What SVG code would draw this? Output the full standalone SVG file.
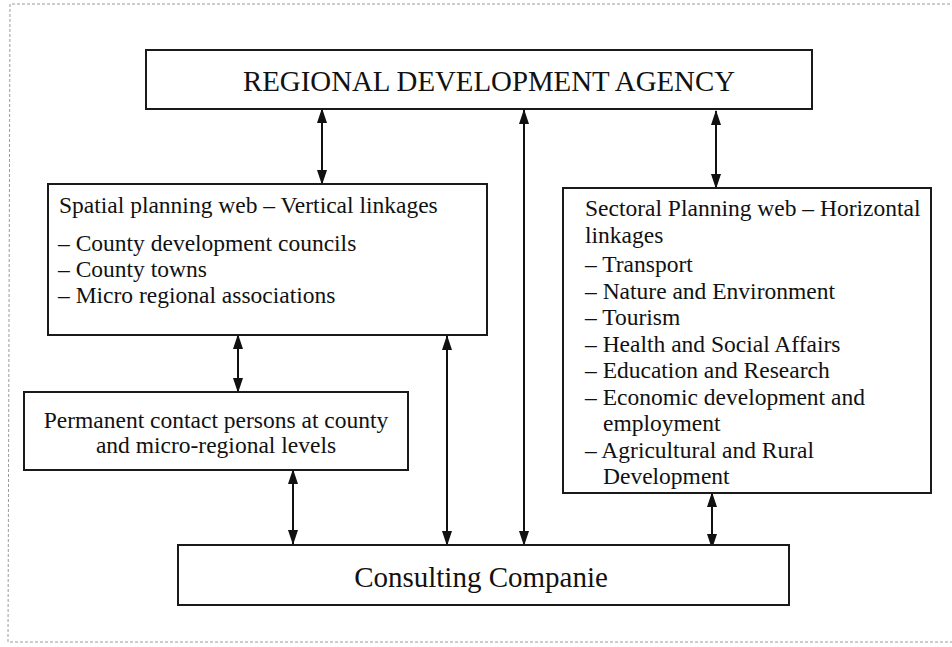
<svg xmlns="http://www.w3.org/2000/svg" width="952" height="647" viewBox="0 0 952 647">
<style>
.box{fill:#fff;stroke:#1a1a1a;stroke-width:2}
.t{font-family:"Liberation Serif","Times New Roman",serif;fill:#111}
.big{font-size:29px}
.body{font-size:23.5px}
.c{stroke:#111;stroke-width:2;fill:none;marker-start:url(#ah);marker-end:url(#ah)}
.frame{fill:none;stroke:#9a9a9a;stroke-width:1;stroke-dasharray:3 2}
</style>
<defs>
<marker id="ah" viewBox="0 0 15 10" refX="14" refY="5" markerWidth="15" markerHeight="10" markerUnits="userSpaceOnUse" orient="auto-start-reverse">
<path d="M0,0 L15,5 L0,10 z" fill="#111"/>
</marker>
</defs>
<rect width="952" height="647" fill="#fff"/>
<path class="frame" d="M12,4 L952,4 M10,4 L8,642 L952,642"/>
<g id="connectors">
<line class="c" x1="322" y1="109" x2="322" y2="184"/>
<line class="c" x1="524" y1="110" x2="524" y2="545"/>
<line class="c" x1="716" y1="111" x2="716" y2="188"/>
<line class="c" x1="238" y1="335" x2="238" y2="392"/>
<line class="c" x1="447" y1="336" x2="447" y2="545"/>
<line class="c" x1="293" y1="470" x2="293" y2="544"/>
<line class="c" x1="712" y1="493" x2="712" y2="548"/>
</g>
<g id="rda">
<rect class="box" x="146" y="50" width="666" height="59"/>
<text class="t big" x="243" y="91" textLength="492" lengthAdjust="spacingAndGlyphs">REGIONAL DEVELOPMENT AGENCY</text>
</g>
<g id="spatial">
<rect class="box" x="48" y="184" width="439" height="151"/>
<text class="t body" x="59" y="213">Spatial planning web – Vertical linkages</text>
<text class="t body" x="58" y="251">– County development councils</text>
<text class="t body" x="58" y="277">– County towns</text>
<text class="t body" x="58" y="303">– Micro regional associations</text>
</g>
<g id="sectoral">
<rect class="box" x="563" y="188" width="368" height="305"/>
<text class="t body" x="585" y="216">Sectoral Planning web – Horizontal</text>
<text class="t body" x="585" y="243">linkages</text>
<text class="t body" x="585" y="272">– Transport</text>
<text class="t body" x="585" y="298.5">– Nature and Environment</text>
<text class="t body" x="585" y="325">– Tourism</text>
<text class="t body" x="585" y="351.5">– Health and Social Affairs</text>
<text class="t body" x="585" y="378">– Education and Research</text>
<text class="t body" x="585" y="404.5">– Economic development and</text>
<text class="t body" x="603" y="431">employment</text>
<text class="t body" x="585" y="457.5">– Agricultural and Rural</text>
<text class="t body" x="603" y="484">Development</text>
</g>
<g id="contacts">
<rect class="box" x="24" y="392" width="384" height="78"/>
<text class="t body" x="216" y="428" text-anchor="middle">Permanent contact persons at county</text>
<text class="t body" x="216" y="453" text-anchor="middle">and micro-regional levels</text>
</g>
<g id="consulting">
<rect class="box" x="178" y="545" width="611" height="60"/>
<text class="t big" x="481" y="587" text-anchor="middle">Consulting Companie</text>
</g>
</svg>
